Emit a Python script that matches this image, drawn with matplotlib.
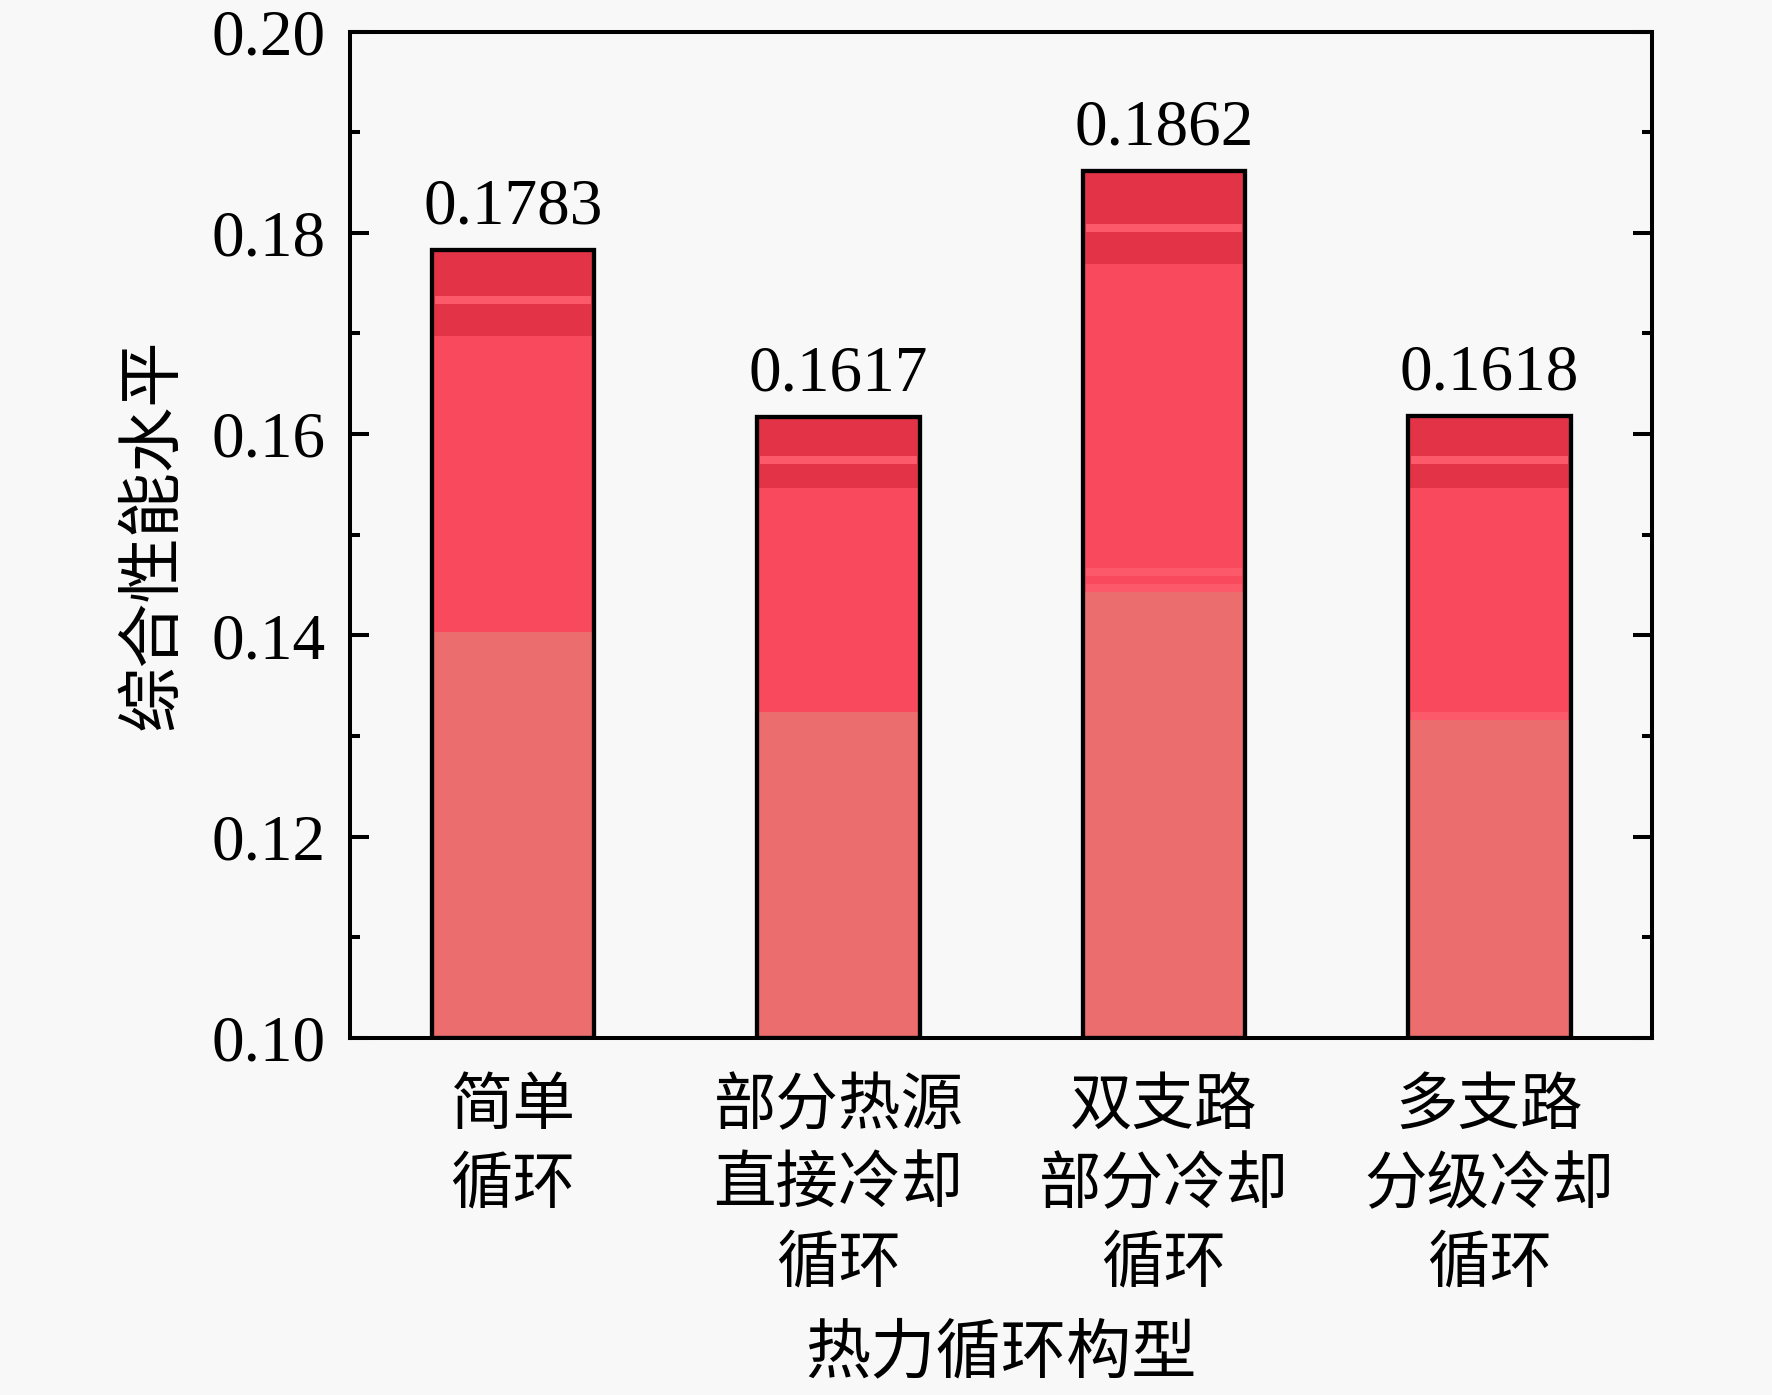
import matplotlib
matplotlib.use("Agg")
import matplotlib.pyplot as plt
from matplotlib.ticker import MultipleLocator

plt.rcParams['font.family'] = ['Liberation Serif', 'Noto Sans CJK SC']

# data
categories = ['简单\n循环', '部分热源\n直接冷却\n循环', '双支路\n部分冷却\n循环', '多支路\n分级冷却\n循环']
totals = [0.1783, 0.1617, 0.1862, 0.1618]
low_top = [0.1403, 0.1324, 0.1443, 0.1316]   # light lower part
mid_top = [0.1698, 0.1546, 0.1769, 0.1546]   # middle part
stripes = [[0.1733], [0.1574], [0.1805, 0.1463, 0.1447], [0.1574, 0.1320]]
labels = ['0.1783', '0.1617', '0.1862', '0.1618']

base = 0.10
x = [1, 2, 3, 4]
w = 0.5
bg = '#f8f8f8'
c_low = '#eb6d6e'
c_mid = '#f84a5c'
c_top = '#e23446'
c_str = '#fc5a6b'

fig = plt.figure(figsize=(17.72, 13.95), dpi=100, facecolor=bg)
ax = fig.add_axes([0.1977, 0.2561, 0.7347, 0.7212])
ax.set_facecolor(bg)

low_h = [l - base for l in low_top]
mid_h = [m - l for m, l in zip(mid_top, low_top)]
top_h = [t - m for t, m in zip(totals, mid_top)]
ax.bar(x, low_h, w, bottom=base, color=c_low, linewidth=0)
ax.bar(x, mid_h, w, bottom=low_top, color=c_mid, linewidth=0)
ax.bar(x, top_h, w, bottom=mid_top, color=c_top, linewidth=0)
for i, s in enumerate(stripes):
    for v in s:
        ax.bar(x[i], 0.0008, w * 0.96, bottom=v - 0.0004, color=c_str, linewidth=0)
# outline
ax.bar(x, [t - base for t in totals], w, bottom=base, fill=False,
       edgecolor='black', linewidth=3.1)

for xi, t, lab in zip(x, totals, labels):
    ax.text(xi, t + 0.0012, lab, ha='center', va='bottom', fontsize=47,
            family='Liberation Serif')

ax.set_xlim(0.5, 4.5)
ax.set_ylim(0.10, 0.20)
ax.yaxis.set_minor_locator(MultipleLocator(0.01))
ax.set_yticks([0.10, 0.12, 0.14, 0.16, 0.18, 0.20])
ax.set_yticklabels(['0.10', '0.12', '0.14', '0.16', '0.18', '0.20'])
ax.tick_params(axis='y', which='major', direction='in', length=14, width=2.9,
               right=True, labelsize=47, pad=18)
ax.tick_params(axis='y', which='minor', direction='in', length=7, width=2.9,
               right=True)
ax.set_xticks(x)
ax.set_xticklabels(categories, family='Noto Sans CJK SC', fontsize=45,
                   linespacing=1.3)
ax.tick_params(axis='x', length=0, pad=26)
for sp in ax.spines.values():
    sp.set_linewidth(2.9)

ax.set_ylabel('综合性能水平', family='Noto Sans CJK SC', fontsize=47, labelpad=18)
ax.set_xlabel('热力循环构型', family='Noto Sans CJK SC', fontsize=47, labelpad=18)

fig.savefig('out.png', dpi=100, facecolor=bg)
